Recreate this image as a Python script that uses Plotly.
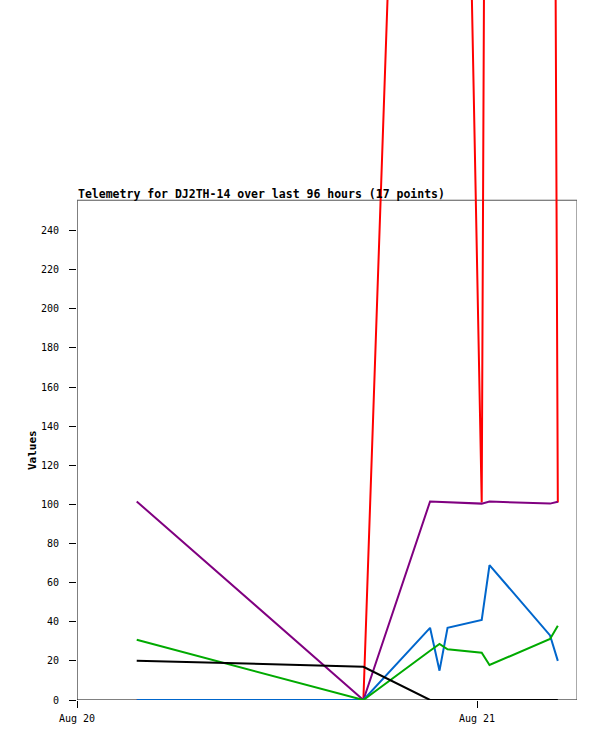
import plotly.graph_objects as go

# ---- data ----
times = ["2024-08-20 03:35", "2024-08-20 17:11", "2024-08-20 21:11", "2024-08-20 21:45",
         "2024-08-20 22:14", "2024-08-21 00:17", "2024-08-21 00:45", "2024-08-21 04:23",
         "2024-08-21 04:51"]
red_vals = [0, 0, 990, 1000, 995, 101, 1000, 1020, 101]
purple_vals = [101.5, 0, 101.5, 101.3, 101.1, 100.4, 101.5, 100.4, 101.4]
blue_vals = [0, 0, 36.9, 15.0, 36.9, 40.9, 69, 33, 20]
green_vals = [30.8, 0, 25.2, 28.7, 25.9, 24.2, 17.9, 31.2, 38]
black_vals = [20.1, 17.0, 0, 0, 0, 0, 0, 0, 0]

y_ticks = [0, 20, 40, 60, 80, 100, 120, 140, 160, 180, 200, 220, 240]
x_range = ["2024-08-20 00:00", "2024-08-21 06:00"]
y_frame_top = 255.5
title_text = "Telemetry for DJ2TH-14 over last 96 hours (17 points)"
y_label = "Values"

series = [
    (red_vals, "#ff0000"),
    (purple_vals, "#800080"),
    (blue_vals, "#0066cc"),
    (green_vals, "#00aa00"),
    (black_vals, "#000000"),
]

fig = go.Figure()
for vals, col in series:
    fig.add_trace(go.Scatter(x=times, y=vals, mode="lines",
                             line=dict(color=col, width=2), showlegend=False,
                             hoverinfo="skip"))

mono = "DejaVu Sans Mono"
y_top = 700 / 1.956

fig.update_layout(
    width=597, height=741, autosize=False,
    margin=dict(l=77, r=20, t=0, b=41, pad=0),
    paper_bgcolor="white", plot_bgcolor="white",
    font=dict(family=mono, size=10, color="black"),
    xaxis=dict(type="date", range=x_range, dtick=86400000, tickformat="%b %d",
               ticks="outside", ticklen=7, tickcolor="black", tickwidth=1,
               showgrid=False, zeroline=False, showline=False, ticklabelstandoff=2,
               tickfont=dict(family=mono, size=10, color="black")),
    yaxis=dict(range=[0, y_top], tickvals=y_ticks, ticks="outside", ticklen=7,
               tickcolor="black", tickwidth=1, showgrid=False, zeroline=False,
               showline=False, ticklabelstandoff=8,
               tickfont=dict(family=mono, size=10, color="black")),
    shapes=[
        dict(type="line", xref="x", yref="y", x0=x_range[0], x1=x_range[0], y0=0, y1=y_frame_top,
             line=dict(color="black", width=1), layer="below"),
        dict(type="line", xref="x", yref="y", x0=x_range[0], x1=x_range[1], y0=0, y1=0,
             line=dict(color="black", width=1), layer="below"),
        dict(type="line", xref="x", yref="y", x0=x_range[0], x1=x_range[1], y0=y_frame_top, y1=y_frame_top,
             line=dict(color="#555555", width=1), layer="below"),
        dict(type="line", xref="x", yref="y", x0=x_range[1], x1=x_range[1], y0=0, y1=y_frame_top,
             line=dict(color="#555555", width=1), layer="below"),
    ],
    annotations=[
        dict(text="<b>" + title_text + "</b>", xref="paper", yref="y", x=0, y=(700 - 194) / 1.956,
             xanchor="left", yanchor="middle", showarrow=False, xshift=-1,
             font=dict(family=mono, size=11.5, color="black")),
        dict(text="<b>" + y_label + "</b>", xref="paper", yref="y", x=0, y=(700 - 450) / 1.956,
             xanchor="center", yanchor="middle", showarrow=False, textangle=-90, xshift=-45,
             font=dict(family=mono, size=11, color="black")),
    ],
)

fig.write_html("out.html", config={"displayModeBar": False},
               post_script="document.body.style.margin='0';")
